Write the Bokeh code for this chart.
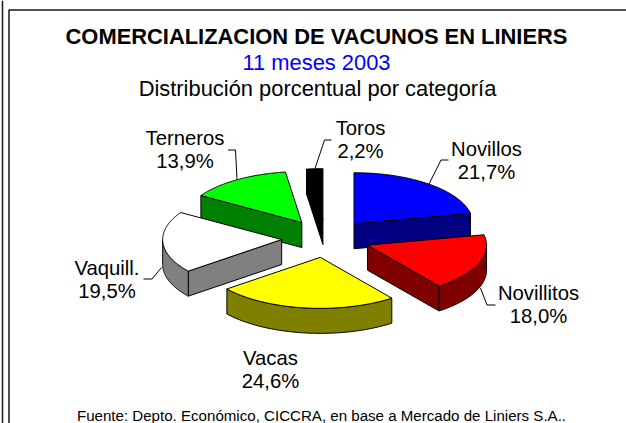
import numpy as np
from bokeh.plotting import figure
from bokeh.models import Range1d
from bokeh.core.properties import value
from bokeh.embed import file_html
from bokeh.resources import INLINE

# --- data ---
categories = ["Novillos", "Novillitos", "Vacas", "Vaquill.", "Terneros", "Toros"]
shares = [21.7, 18.0, 24.6, 19.5, 13.9, 2.2]
top_colors = ["#0000FF", "#FF0000", "#FFFF00", "#FFFFFF", "#00FF00", "#000000"]
side_colors = ["#000080", "#800000", "#808000", "#808080", "#008000", "#000000"]
title_lines = ["COMERCIALIZACION DE VACUNOS EN LINIERS", "11 meses 2003",
               "Distribución porcentual por categoría"]
source_note = "Fuente: Depto. Económico, CICCRA, en base a Mercado de Liniers S.A.."

# --- layout ---
W, H = 626, 423
CX, CY, RX, RY, DEPTH, EXPLODE = 325.5, 238.0, 119.0, 51.0, 25.0, 0.373
label_pos = {"Novillos": (486, 148), "Novillitos": (538, 292), "Vacas": (270, 357),
             "Vaquill.": (106.5, 267), "Terneros": (184.5, 137), "Toros": (360, 127)}
leaders = {"Novillos": ([428.5, 440.5, 448], [183.5, 159.5, 159.5]),
           "Novillitos": ([480, 486.5, 495], [287.5, 304.5, 304.5]),
           "Vaquill.": ([161, 151.5, 143], [267, 278.5, 278.5]),
           "Terneros": ([236.5, 235, 227.5], [179, 149.5, 149.5]),
           "Toros": ([314.5, 324, 331], [168, 139.5, 139.5])}
LINE_H = 23.5

p = figure(width=W, height=H, output_backend="svg", toolbar_location=None,
           x_range=Range1d(0, W), y_range=Range1d(H, 0), min_border=0,
           styles={"position": "absolute", "left": "0px", "top": "0px"})
p.axis.visible = False
p.grid.visible = False
p.outline_line_color = None

# frame of the original sheet
FRAME = "#1a1a1a"
p.line([2, 2], [0, H], line_color=FRAME, line_width=1.5)
p.line([8.5, 8.5, W], [H, 9.5, 9.5], line_color=FRAME, line_width=1.5)


def ell(theta, ax, ay):
    return ax + RX * np.sin(theta), ay - RY * np.cos(theta)


total = sum(shares)
edges = np.radians(np.concatenate([[0], np.cumsum(shares)]) / total * 360)
slices = []
for i, name in enumerate(categories):
    a0, a1 = edges[i], edges[i + 1]
    mid = (a0 + a1) / 2
    ax = CX + EXPLODE * RX * np.sin(mid)
    ay = CY - EXPLODE * RY * np.cos(mid)
    slices.append((ay, i, a0, a1, ax))

for ay, i, a0, a1, ax in sorted(slices):
    kw = dict(line_color="black", line_width=1)
    # radial wall facing the viewer
    for th, visible in ((a0, np.sin(a0) < -1e-6), (a1, np.sin(a1) > 1e-6)):
        if visible:
            ex, ey = ell(th, ax, ay)
            p.patch([ax, ex, ex, ax], [ay, ey, ey + DEPTH, ay + DEPTH],
                    fill_color=side_colors[i], **kw)
    # outer wall on the front half
    lo, hi = max(a0, np.pi / 2), min(a1, 3 * np.pi / 2)
    if hi > lo:
        t = np.linspace(lo, hi, 60)
        ex, ey = ell(t, ax, ay)
        p.patch(np.r_[ex, ex[::-1]], np.r_[ey, ey[::-1] + DEPTH],
                fill_color=side_colors[i], **kw)
    # top face
    t = np.linspace(a0, a1, 90)
    ex, ey = ell(t, ax, ay)
    p.patch(np.r_[ax, ex], np.r_[ay, ey], fill_color=top_colors[i], **kw)

for name in leaders:
    xs, ys = leaders[name]
    p.line(xs, ys, line_color="black", line_width=1)

FONT = value("Liberation Sans")
common = dict(text_font=FONT, text_align="center", text_baseline="middle", text_color="black")
LABEL = "20.3px"
TITLE = "21.9px"
for name, v in zip(categories, shares):
    x, y = label_pos[name]
    pct = f"{v:.1f}".replace(".", ",") + "%"
    p.text([x], [y], text=[name], text_font_size=LABEL, **common)
    p.text([x], [y + LINE_H], text=[pct], text_font_size=LABEL, **common)

p.text([316], [36], text=[title_lines[0]], text_font_size=TITLE, text_font_style="bold",
       text_font=FONT, text_align="center", text_baseline="middle", text_color="black")
p.text([316], [62], text=[title_lines[1]], text_font_size=TITLE,
       text_font=FONT, text_align="center", text_baseline="middle", text_color="#0000FF")
p.text([317], [88], text=[title_lines[2]], text_font_size=TITLE, **common)
p.text([321], [415], text=[source_note], text_font_size="15.1px", **common)

open("out.html", "w").write(file_html(p, INLINE))
